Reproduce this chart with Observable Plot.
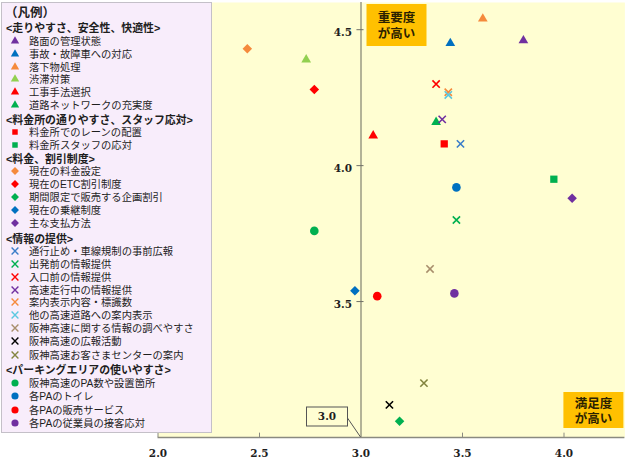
<!DOCTYPE html>
<html><head><meta charset="utf-8">
<script src="https://cdn.jsdelivr.net/npm/d3@7"></script>
<script src="https://cdn.jsdelivr.net/npm/@observablehq/plot@0.6"></script>
<style>
body{margin:0;background:#fff;}
#wrap{position:relative;width:628px;height:464px;overflow:hidden;}
#legend{position:absolute;left:1px;top:2px;width:211px;height:431px;box-sizing:border-box;background:#F8EDFB;border:1px solid #C4C0C8;font-family:"Liberation Sans","Noto Sans CJK JP",sans-serif;color:#1e1e1e;}
.row{position:absolute;height:12px;line-height:12px;white-space:nowrap;}
.title{left:3px;font-size:12.5px;font-weight:600;}
.head{left:4px;font-size:10.9px;font-weight:700;}
.item{left:27px;font-size:10.3px;}
.sym{position:absolute;left:7px;}
</style></head>
<body><div id="wrap"><div id="chart"></div><div id="legend"></div></div>
<script>
// ---- data (x = 満足度, y = 重要度) ----
const headers = ["<走りやすさ、安全性、快適性>","<料金所の通りやすさ、スタッフ応対>","<料金、割引制度>","<情報の提供>","<パーキングエリアの使いやすさ>"];

const triItems = ["路面の管理状態","事故・故障車への対応","落下物処理","渋滞対策","工事手法選択","道路ネットワークの充実度"];
const triX = [3.80, 3.44, 3.60, 2.73, 3.06, 3.37];
const triY = [4.46, 4.45, 4.54, 4.39, 4.11, 4.16];
const triColors = ["#7030A0","#0070C0","#F58A3C","#92D050","#FF0000","#00B050"];

const sqItems = ["料金所でのレーンの配置","料金所スタッフの応対"];
const sqX = [3.41, 3.95];
const sqY = [4.08, 3.95];
const sqColors = ["#FF0000","#00B050"];

const diaItems = ["現在の料金設定","現在のETC割引制度","期間限定で販売する企画割引","現在の乗継制度","主な支払方法"];
const diaX = [2.44, 2.77, 3.19, 2.97, 4.04];
const diaY = [4.43, 4.28, 3.06, 3.54, 3.88];
const diaColors = ["#F58A3C","#FF0000","#00B050","#0070C0","#7030A0"];

const crossItems = ["通行止め・車線規制の事前広報","出発前の情報提供","入口前の情報提供","高速走行中の情報提供","案内表示内容・標識数","他の高速道路への案内表示","阪神高速に関する情報の調べやすさ","阪神高速の広報活動","阪神高速お客さまセンターの案内"];
const crossX = [3.49, 3.47, 3.37, 3.40, 3.43, 3.43, 3.34, 3.14, 3.31];
const crossY = [4.08, 3.80, 4.30, 4.17, 4.27, 4.26, 3.62, 3.12, 3.20];
const crossColors = ["#3A7DC9","#00B050","#FF0000","#7030A0","#F58A3C","#5BC8E0","#A88E6C","#000000","#83843F"];

const circItems = ["阪神高速のPA数や設置箇所","各PAのトイレ","各PAの販売サービス","各PAの従業員の接客応対"];
const circX = [2.77, 3.47, 3.08, 3.46];
const circY = [3.76, 3.92, 3.52, 3.53];
const circColors = ["#00B050","#0070C0","#FF0000","#7030A0"];

const xTicks = [2.0, 2.5, 3.0, 3.5, 4.0];
const yTicks = [3.5, 4.0, 4.5];
const xDomain = [2.0, 4.3];
const yDomain = [3.0, 4.6];
const axisCross = 3.0;

// ---- build ----
const rows = (items, xs, ys, cs) => items.map((name, i) => ({name, x: xs[i], y: ys[i], c: cs[i]}));
const tri = rows(triItems, triX, triY, triColors);
const sq = rows(sqItems, sqX, sqY, sqColors);
const dia = rows(diaItems, diaX, diaY, diaColors);
const crs = rows(crossItems, crossX, crossY, crossColors);
const circ = rows(circItems, circX, circY, circColors);

const serif = "DejaVu Serif";
const chart = Plot.plot({
  width: 628, height: 464,
  marginLeft: 157.5, marginRight: 3.6, marginTop: 2, marginBottom: 27,
  x: {domain: xDomain, axis: null},
  y: {domain: yDomain, axis: null},
  color: {type: "identity"},
  style: {background: "transparent", overflow: "visible"},
  marks: [
    Plot.frame({fill: "#FFFED2", stroke: "none"}),
    Plot.ruleY([yDomain[0]], {stroke: "#8a8a80", strokeWidth: 1.3}),
    Plot.ruleX([axisCross], {stroke: "#8a8a78", strokeWidth: 1.3}),
    Plot.ruleX(xTicks.filter(d => d !== axisCross), {x: d => d, y1: yDomain[0], y2: yDomain[0] + 0.016, stroke: "#8a8a80", strokeWidth: 1}),
    Plot.ruleY(yTicks, {y: d => d, x1: axisCross - 0.02, x2: axisCross + 0.015, stroke: "#6f6f66", strokeWidth: 1}),
    Plot.text(xTicks, {x: d => d, y: yDomain[0], dy: 16, text: d => d.toFixed(1), fontFamily: serif, fontWeight: "bold", fontSize: 10.5, fill: "#1e1e1e"}),
    Plot.text(yTicks, {x: axisCross, y: d => d, dx: -9, dy: 3, textAnchor: "end", text: d => d.toFixed(1), fontFamily: serif, fontWeight: "bold", fontSize: 10.5, fill: "#1e1e1e"}),
    Plot.dot(tri, {x: "x", y: "y", fill: "c", symbol: "triangle", r: 3.6}),
    Plot.dot(sq, {x: "x", y: "y", fill: "c", symbol: "square", r: 4.1}),
    Plot.dot(dia, {x: "x", y: "y", fill: "c", symbol: "diamond2", r: 4.3}),
    Plot.dot(circ, {x: "x", y: "y", fill: "c", symbol: "circle", r: 4.3}),
    Plot.dot(crs, {x: "x", y: "y", stroke: "c", fill: "none", symbol: "times", r: 3.4, strokeWidth: 1.6})
  ]
});
document.getElementById("chart").appendChild(chart);

// ---- annotations anchored via scales ----
const sx = chart.scale("x"), sy = chart.scale("y");
const svg = d3.select(chart);
const ox = sx.apply(axisCross), oy = sy.apply(yDomain[0]);
const g = svg.append("g");
g.append("line").attr("x1", ox - 13).attr("y1", oy - 19).attr("x2", ox).attr("y2", oy).attr("stroke", "#555").attr("stroke-width", 1);
g.append("rect").attr("x", ox - 54).attr("y", oy - 30).attr("width", 41).attr("height", 19).attr("fill", "#FFFED2").attr("stroke", "#555").attr("stroke-width", 1);
g.append("text").attr("x", ox - 33.5).attr("y", oy - 20.5).attr("dy", "0.35em").attr("text-anchor", "middle")
  .attr("font-family", serif).attr("font-weight", "bold").attr("font-size", 10.5).attr("fill", "#1e1e1e").text(axisCross.toFixed(1));

function tag(x0, y0, w, h, lines, gap) {
  g.append("rect").attr("x", x0).attr("y", y0).attr("width", w).attr("height", h).attr("fill", "#FFC000");
  lines.forEach((s, i) => {
    g.append("text").attr("text-anchor", "middle").attr("font-family", "'Liberation Sans','Noto Sans CJK JP'").attr("font-weight", "bold")
      .attr("font-size", 12.5).attr("fill", "#2b2200")
      .attr("x", x0 + w / 2).attr("y", y0 + h / 2 + (i - 0.5) * gap).attr("dy", "0.4em").text(s);
  });
}
const topY = sy.apply(yDomain[1]);
tag(ox + 6, topY + 2, 60, 42, ["重要度", "が高い"], 16.5);
const rightX = sx.apply(xDomain[1]);
tag(rightX - 61, oy - 45, 60, 36, ["満足度", "が高い"], 15);

// ---- legend ----
const legend = d3.select("#legend");
const rowCenters = [12, 27, 41, 54, 66.5, 79, 92, 105, 119, 132, 145, 158, 171, 184, 197, 210, 223, 238, 251, 264, 277, 289.5, 302, 315, 328, 341, 354.5, 369, 383, 396, 409.5, 423];
const legendOffset = 3;
let idx = 0;
const symMap = {triangle: d3.symbolTriangle, square: d3.symbolSquare, diamond2: d3.symbolDiamond2, circle: d3.symbolCircle, times: d3.symbolTimes};
function addRow(cls, text) {
  const c = rowCenters[idx++] - legendOffset;
  legend.append("div").attr("class", "row " + cls).style("top", (c - 5) + "px").text(text);
  return c;
}
function addItems(items, colors, symName, size) {
  items.forEach((name, i) => {
    const c = addRow("item", name);
    const s = legend.append("svg").attr("class", "sym").attr("width", 12).attr("height", 12).style("top", (c - 6) + "px");
    const el = s.append("path").attr("d", d3.symbol(symMap[symName], size)()).attr("transform", "translate(6,6)");
    if (symName === "times") el.attr("fill", "none").attr("stroke", colors[i]).attr("stroke-width", 1.4);
    else el.attr("fill", colors[i]);
  });
}
addRow("title", "（凡例）");
addRow("head", headers[0]); addItems(triItems, triColors, "triangle", 30);
addRow("head", headers[1]); addItems(sqItems, sqColors, "square", 30);
addRow("head", headers[2]); addItems(diaItems, diaColors, "diamond2", 40);
addRow("head", headers[3]); addItems(crossItems, crossColors, "times", 32);
addRow("head", headers[4]); addItems(circItems, circColors, "circle", 40);
</script>
</body></html>
